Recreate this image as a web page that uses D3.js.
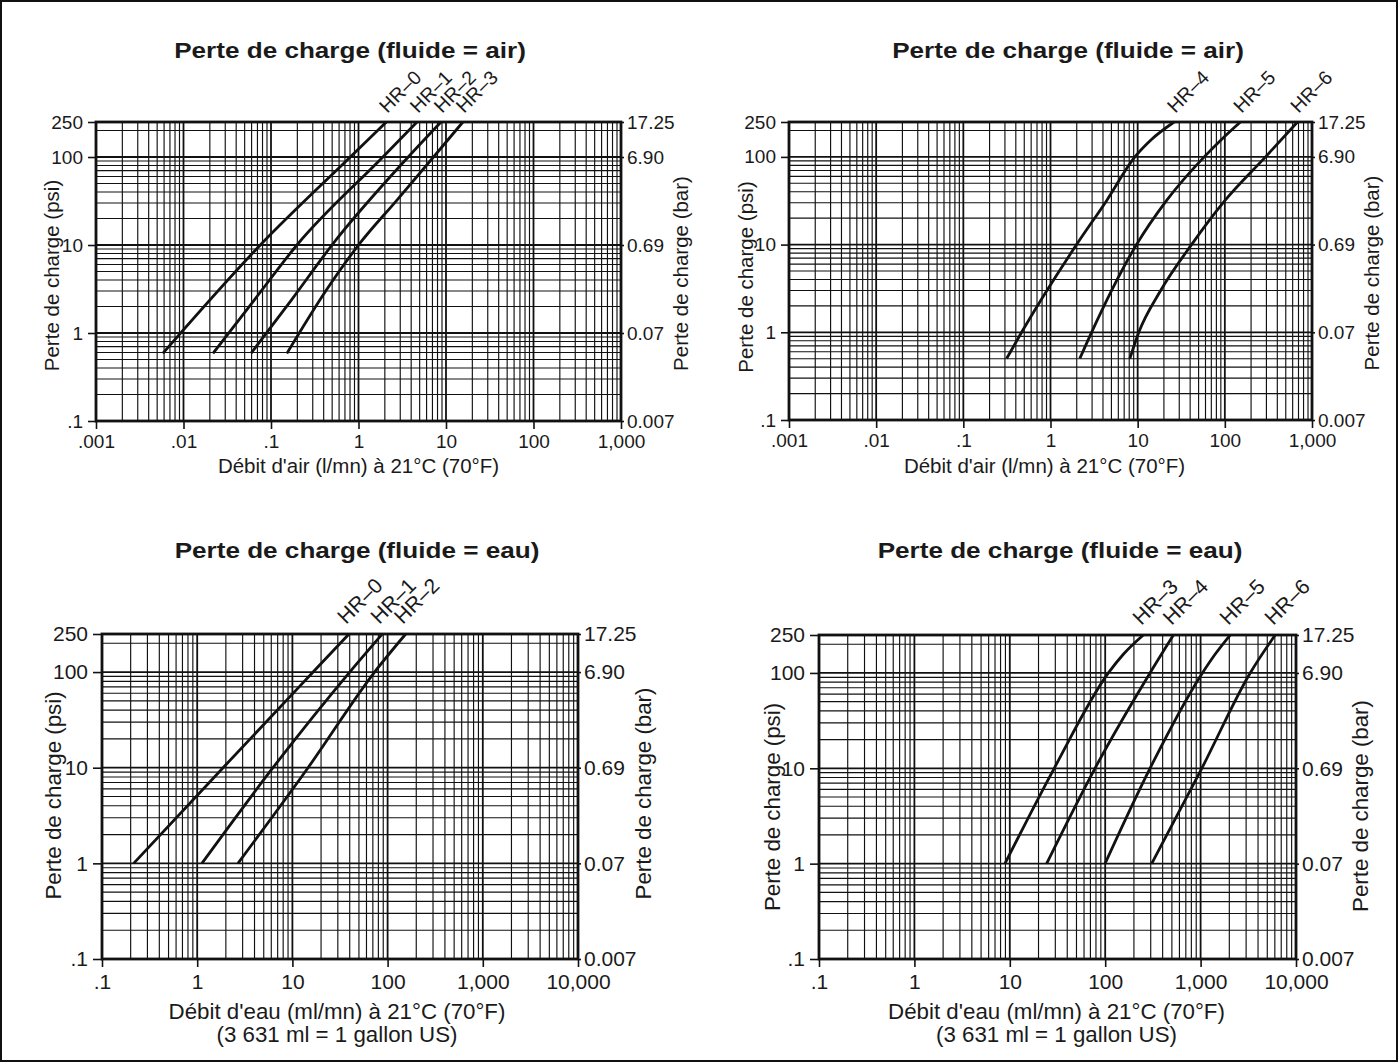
<!DOCTYPE html>
<html>
<head>
<meta charset="utf-8">
<script src="https://cdn.jsdelivr.net/npm/d3@7"></script>
<style>
  html, body { margin: 0; padding: 0; background: #fff; }
  svg { display: block; }
  text { font-family: "Liberation Sans", Arial, Helvetica, sans-serif; fill: #1a1a1a; }
</style>
</head>
<body>
<svg id="chart" width="1398" height="1062"></svg>
<script>
// Pressure axis (left psi, right bar)
const psiTicks = [250, 100, 10, 1, 0.1];
const psiLabels = ['250', '100', '10', '1', '.1'];
const barLabels = ['17.25', '6.90', '0.69', '0.07', '0.007'];
const psiDomain = [0.1, 250];

// Flow axes
const airFlowTicks = [0.001, 0.01, 0.1, 1, 10, 100, 1000];
const airFlowLabels = ['.001', '.01', '.1', '1', '10', '100', '1,000'];
const waterFlowTicks = [0.1, 1, 10, 100, 1000, 10000];
const waterFlowLabels = ['.1', '1', '10', '100', '1,000', '10,000'];

// Air curves, [flow l/mn, psi]
const airHR0 = [[0.0058, 0.586], [0.0755, 10], [0.806, 100], [2.08, 250]];
const airHR1 = [[0.0217, 0.586], [0.065, 2.4], [0.198, 10], [1.9, 100], [4.66, 250]];
const airHR2 = [[0.059, 0.586], [0.17, 2.35], [0.498, 10], [3.7, 100], [8.77, 250]];
const airHR3 = [[0.152, 0.586], [0.437, 3.16], [1.0, 10], [2.69, 31.6], [7.2, 100], [15.6, 250]];
const airHR4 = [[0.314, 0.503], [0.466, 1], [1.99, 10], [4.4, 31.7], [9.29, 100], [14.4, 158], [26.2, 250]];
const airHR5 = [[2.17, 0.503], [2.96, 1], [9.7, 10], [21.4, 31.7], [58, 100], [91.6, 158], [151, 250]];
const airHR6 = [[8.14, 0.503], [10.3, 1], [18, 2.9], [41.5, 10], [100, 31.7], [293, 100], [682, 250]];

// Water curves, [flow ml/mn, psi]
const waterHR0 = [[0.215, 1], [1.87, 10], [16.5, 100], [39.3, 250]];
const waterHR1 = [[1.12, 1], [6.25, 10], [40, 100], [88, 250]];
const waterHR2 = [[2.68, 1], [14.6, 10], [73, 100], [155, 250]];
const waterHR3 = [[8.89, 1], [29.2, 10], [108, 100], [155, 157], [251, 250]];
const waterHR4 = [[24.3, 1], [78.2, 10], [295, 100], [519, 250]];
const waterHR5 = [[99.5, 1], [295, 10], [1045, 100], [1419, 157], [2042, 250]];
const waterHR6 = [[307, 1], [1030, 10], [3310, 100], [6050, 250]];

const airTitle = 'Perte de charge (fluide = air)';
const waterTitle = 'Perte de charge (fluide = eau)';
const airAxisTitle = ["Débit d'air (l/mn) à 21°C (70°F)"];
const waterAxisTitle = ["Débit d'eau (ml/mn) à 21°C (70°F)", '(3 631 ml = 1 gallon US)'];

/**
 * LogPanel - one log-log pressure drop chart
 */
class LogPanel {
    constructor(svg, cfg) {
        this.svg = svg;
        this.cfg = cfg;
    }

    /**
     * 1..9 multiples of each decade inside a domain
     */
    gridValues(lo, hi) {
        const vals = [];
        for (let e = Math.floor(Math.log10(lo)); e <= Math.ceil(Math.log10(hi)); e++) {
            for (let m = 1; m <= 9; m++) {
                const v = m * Math.pow(10, e);
                if (v >= lo * 0.999 && v <= hi * 1.001) vals.push({ v, major: m === 1 });
            }
        }
        return vals;
    }

    render() {
        const c = this.cfg;
        const b = c.box;
        const f = c.font;
        const g = this.svg.append('g');

        const x = d3.scaleLog().domain(c.xDomain).range([b.x0, b.x1]);
        const y = d3.scaleLog().domain(psiDomain).range([b.y1, b.y0]);

        // Grid
        const grid = g.append('g').attr('class', 'grid');
        grid.selectAll('.vx')
            .data(this.gridValues(c.xDomain[0], c.xDomain[1]))
            .enter().append('line')
            .attr('x1', d => x(d.v)).attr('x2', d => x(d.v))
            .attr('y1', b.y0).attr('y2', b.y1)
            .attr('stroke', '#111')
            .attr('stroke-width', d => d.major ? 1.8 : 1.15);
        grid.selectAll('.hy')
            .data(this.gridValues(psiDomain[0], psiDomain[1]))
            .enter().append('line')
            .attr('y1', d => y(d.v)).attr('y2', d => y(d.v))
            .attr('x1', b.x0).attr('x2', b.x1)
            .attr('stroke', '#111')
            .attr('stroke-width', d => d.major ? 1.8 : 1.15);

        // Curves
        const line = d3.line()
            .x(d => x(d[0]))
            .y(d => y(d[1]))
            .curve(d3.curveMonotoneX);
        g.append('g').selectAll('path')
            .data(c.curves)
            .enter().append('path')
            .attr('d', d => line(d.points))
            .attr('fill', 'none')
            .attr('stroke', '#111')
            .attr('stroke-width', 2.8);

        // Curve labels
        g.append('g').selectAll('text')
            .data(c.curves)
            .enter().append('text')
            .attr('transform', d => {
                const end = d.points[d.points.length - 1];
                return `translate(${x(end[0]) + c.labelOffset[0]},${y(end[1]) + c.labelOffset[1]}) rotate(-45)`;
            })
            .attr('font-size', f.curve)
            .text(d => d.name);

        // Frame
        g.append('rect')
            .attr('x', b.x0).attr('y', b.y0)
            .attr('width', b.x1 - b.x0).attr('height', b.y1 - b.y0)
            .attr('fill', 'none')
            .attr('stroke', '#111')
            .attr('stroke-width', 2.8);

        // Axes
        const styleAxis = (sel) => {
            sel.select('.domain').remove();
            sel.selectAll('line').attr('stroke', '#111').attr('stroke-width', 1.6);
            sel.selectAll('text')
                .attr('font-size', f.tick)
                .attr('font-family', '"Liberation Sans", Arial, sans-serif')
                .attr('fill', '#1a1a1a');
        };

        g.append('g')
            .attr('transform', `translate(0,${b.y1})`)
            .call(d3.axisBottom(x).tickValues(c.xTicks)
                .tickFormat((d, i) => c.xLabels[i]).tickSize(8).tickPadding(c.xPad))
            .call(styleAxis);

        g.append('g')
            .attr('transform', `translate(${b.x0},0)`)
            .call(d3.axisLeft(y).tickValues(psiTicks)
                .tickFormat((d, i) => psiLabels[i]).tickSize(c.ySize).tickPadding(5))
            .call(styleAxis);

        g.append('g')
            .attr('transform', `translate(${b.x1},0)`)
            .call(d3.axisRight(y).tickValues(psiTicks)
                .tickFormat((d, i) => barLabels[i]).tickSize(3).tickPadding(3))
            .call(styleAxis);

        // Title
        g.append('text')
            .attr('transform', `translate(${c.titlePos[0]},${c.titlePos[1]}) scale(1.16,1)`)
            .attr('text-anchor', 'middle')
            .attr('font-size', 22.5)
            .attr('font-weight', 'bold')
            .text(c.title);

        // X axis title
        g.append('g').selectAll('text')
            .data(c.xTitle)
            .enter().append('text')
            .attr('x', (b.x0 + b.x1) / 2 + c.xTitleShift)
            .attr('y', (d, i) => c.xTitleY + i * f.axis * 1.02)
            .attr('text-anchor', 'middle')
            .attr('font-size', f.axis)
            .text(d => d);

        // Y axis titles
        g.append('text')
            .attr('transform', `translate(${b.x0 - c.psiOffset},${(b.y0 + b.y1) / 2 + c.psiShift}) rotate(-90)`)
            .attr('text-anchor', 'middle')
            .attr('dy', '0.35em')
            .attr('font-size', f.axis)
            .text('Perte de charge (psi)');
        g.append('text')
            .attr('transform', `translate(${b.x1 + c.barOffset},${(b.y0 + b.y1) / 2 + c.barShift}) rotate(-90)`)
            .attr('text-anchor', 'middle')
            .attr('dy', '0.35em')
            .attr('font-size', f.axis)
            .text('Perte de charge (bar)');
    }
}

const svg = d3.select('#chart');

svg.append('rect')
    .attr('x', 1).attr('y', 1)
    .attr('width', 1396).attr('height', 1060)
    .attr('fill', '#fff')
    .attr('stroke', '#111')
    .attr('stroke-width', 2);

const topFont = { tick: 19, axis: 20.5, curve: 19.5 };
const bottomFont = { tick: 21, axis: 22.3, curve: 21 };

const panels = [
    {
        title: airTitle, titlePos: [350, 58],
        box: { x0: 96, x1: 621, y0: 122, y1: 421 },
        xDomain: [0.001, 1000], xTicks: airFlowTicks, xLabels: airFlowLabels, xPad: 6,
        xTitle: airAxisTitle, xTitleY: 473, xTitleShift: 0,
        ySize: 8, psiOffset: 44, psiShift: 4, barOffset: 60, barShift: 2,
        font: topFont, labelOffset: [1, -8],
        curves: [
            { name: 'HR–0', points: airHR0 },
            { name: 'HR–1', points: airHR1 },
            { name: 'HR–2', points: airHR2 },
            { name: 'HR–3', points: airHR3 }
        ]
    },
    {
        title: airTitle, titlePos: [1068, 58],
        box: { x0: 789, x1: 1312, y0: 122, y1: 420 },
        xDomain: [0.001, 1000], xTicks: airFlowTicks, xLabels: airFlowLabels, xPad: 6,
        xTitle: airAxisTitle, xTitleY: 473, xTitleShift: -6,
        ySize: 8, psiOffset: 43, psiShift: 6, barOffset: 60, barShift: 2,
        font: topFont, labelOffset: [1, -8],
        curves: [
            { name: 'HR–4', points: airHR4 },
            { name: 'HR–5', points: airHR5 },
            { name: 'HR–6', points: airHR6 }
        ]
    },
    {
        title: waterTitle, titlePos: [357, 558],
        box: { x0: 102, x1: 578, y0: 634, y1: 959 },
        xDomain: [0.1, 10000], xTicks: waterFlowTicks, xLabels: waterFlowLabels, xPad: 7,
        xTitle: waterAxisTitle, xTitleY: 1019, xTitleShift: -3,
        ySize: 9, psiOffset: 49, psiShift: -1, barOffset: 65, barShift: -3,
        font: bottomFont, labelOffset: [-3, -9],
        curves: [
            { name: 'HR–0', points: waterHR0 },
            { name: 'HR–1', points: waterHR1 },
            { name: 'HR–2', points: waterHR2 }
        ]
    },
    {
        title: waterTitle, titlePos: [1060, 558],
        box: { x0: 819, x1: 1296, y0: 635, y1: 959 },
        xDomain: [0.1, 10000], xTicks: waterFlowTicks, xLabels: waterFlowLabels, xPad: 7,
        xTitle: waterAxisTitle, xTitleY: 1019, xTitleShift: -1,
        ySize: 9, psiOffset: 47, psiShift: 10, barOffset: 64, barShift: 9,
        font: bottomFont, labelOffset: [-2, -9],
        curves: [
            { name: 'HR–3', points: waterHR3 },
            { name: 'HR–4', points: waterHR4 },
            { name: 'HR–5', points: waterHR5 },
            { name: 'HR–6', points: waterHR6 }
        ]
    }
];

panels.forEach(cfg => new LogPanel(svg, cfg).render());
</script>
</body>
</html>
